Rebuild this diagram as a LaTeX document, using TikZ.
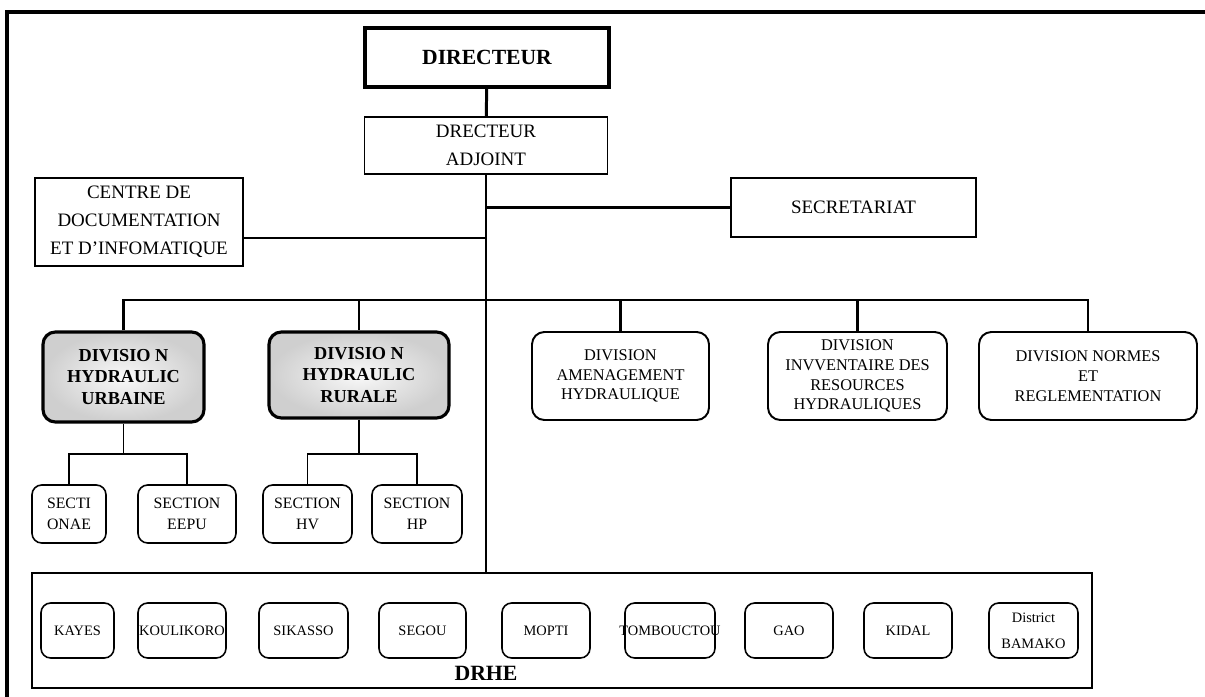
\documentclass[tikz,border=0pt]{standalone}
\usepackage{fontspec}
\setmainfont{Liberation Serif}
\usetikzlibrary{positioning}
\tikzstyle{every node}=[font=\fontsize{10.8}{15.9}\selectfont, align=center, inner sep=0pt]
\tikzstyle{block}=[draw, rectangle, line width=0.9pt]
\tikzstyle{head}=[block, line width=2.3pt, font=\fontsize{12.3}{14}\selectfont\bfseries]
\tikzstyle{division}=[draw, rectangle, rounded corners=7pt, line width=1.1pt, font=\fontsize{9.3}{11.3}\selectfont]
\tikzstyle{maindiv}=[division, line width=1.8pt, inner color=gray!5, outer color=gray!38, font=\fontsize{10.4}{12.5}\selectfont\bfseries]
\tikzstyle{section}=[draw, rectangle, rounded corners=5.5pt, line width=0.9pt, minimum height=1.16cm, font=\fontsize{9}{11.9}\selectfont]
\tikzstyle{city}=[section, minimum height=1.1cm, font=\fontsize{8.2}{15}\selectfont]
\tikzstyle{link}=[line width=1.7pt]
\tikzstyle{sublink}=[line width=1.1pt]

\begin{document}
\begin{tikzpicture}[x=0.02cm, y=-0.02cm]
    \useasboundingbox (0,0) rectangle (1205,697);
    \draw[line width=2.5pt] (7,697) |- (1205,12);
    % direction
    \node[head, minimum width=4.9cm, minimum height=1.18cm] (dir) at (487,57.5) {DIRECTEUR};
    \node[block, minimum width=4.86cm, minimum height=1.14cm] (adj) at (486,145.5) {DRECTEUR\\ADJOINT};
    \node[block, minimum width=4.16cm, minimum height=1.76cm] (cdi) at (139,222) {CENTRE DE\\DOCUMENTATION\\ET D'INFOMATIQUE};
    \node[block, minimum width=4.9cm, minimum height=1.18cm] (sec) at (853.5,207.5) {SECRETARIAT};
    % divisions
    \node[maindiv, minimum width=3.22cm, minimum height=1.8cm] (dhu) at (123.5,377) {DIVISIO N\\HYDRAULIC\\URBAINE};
    \node[maindiv, minimum width=3.6cm, minimum height=1.72cm] (dhr) at (359,375) {DIVISIO N\\HYDRAULIC\\RURALE};
    \node[division, minimum width=3.54cm, minimum height=1.76cm] (dah) at (620.5,376) {DIVISION\\AMENAGEMENT\\HYDRAULIQUE};
    \node[division, minimum width=3.58cm, minimum height=1.76cm] (dirh) at (857.5,376) {DIVISION\\INVVENTAIRE DES\\RESOURCES\\HYDRAULIQUES};
    \node[division, minimum width=4.36cm, minimum height=1.76cm] (dnr) at (1088,376) {DIVISION NORMES\\ET\\REGLEMENTATION};
    % sections
    \node[section, minimum width=1.48cm] (onae) at (69,514) {SECTI\\ONAE};
    \node[section, minimum width=1.96cm] (eepu) at (187,514) {SECTION\\EEPU};
    \node[section, minimum width=1.78cm] (hv) at (307.5,514) {SECTION\\HV};
    \node[section, minimum width=1.8cm] (hp) at (417,514) {SECTION\\HP};
    % DRHE
    \node[block, minimum width=21.2cm, minimum height=2.3cm] (drhe) at (562,630.5) {};
    \node[font=\fontsize{12.4}{14}\selectfont\bfseries] (drhelabel) at (486,673) {DRHE};
    \node[city, minimum width=1.46cm] (kayes) at (77.5,630.5) {KAYES};
    \node[city, minimum width=1.76cm] (koulikoro) at (182,630.5) {KOULIKORO};
    \node[city, minimum width=1.78cm] (sikasso) at (303.5,630.5) {SIKASSO};
    \node[city, minimum width=1.74cm] (segou) at (422.5,630.5) {SEGOU};
    \node[city, minimum width=1.76cm] (mopti) at (546,630.5) {MOPTI};
    \node[city, minimum width=1.8cm] (tombouctou) at (670,630.5) {\makebox[0pt]{TOMBOUCTOU}};
    \node[city, minimum width=1.76cm] (gao) at (789,630.5) {GAO};
    \node[city, minimum width=1.76cm] (kidal) at (908,630.5) {KIDAL};
    \node[city, minimum width=1.78cm] (bamako) at (1033.5,630.5) {District\\BAMAKO};
    % liaisons
    \draw[link] (dir) -- (adj);
    \draw[link] (adj) -- (adj.south |- drhe.north);
    \coordinate (cdij) at ([yshift=-0.32cm]cdi.east);
    \draw[link] (cdij) -- (cdij -| adj.south);
    \draw[link] (sec.west) -- (sec.west -| adj.south);
    \coordinate (bus) at (486,300);
    \draw[link] (dhu.north) |- (bus) -| (dnr.north);
    \draw[link] (bus -| dhr.north) -- (dhr.north);
    \draw[link] (bus -| dah.north) -- (dah.north);
    \draw[link] (bus -| dirh.north) -- (dirh.north);
    \draw[sublink] (dhu.south) -- ++(0,30) coordinate (su);
    \draw[sublink] (onae.north) |- (su) -| (eepu.north);
    \draw[sublink] (dhr.south) -- ++(0,34) coordinate (sr);
    \draw[sublink] (hv.north) |- (sr) -| (hp.north);
\end{tikzpicture}
\end{document}
